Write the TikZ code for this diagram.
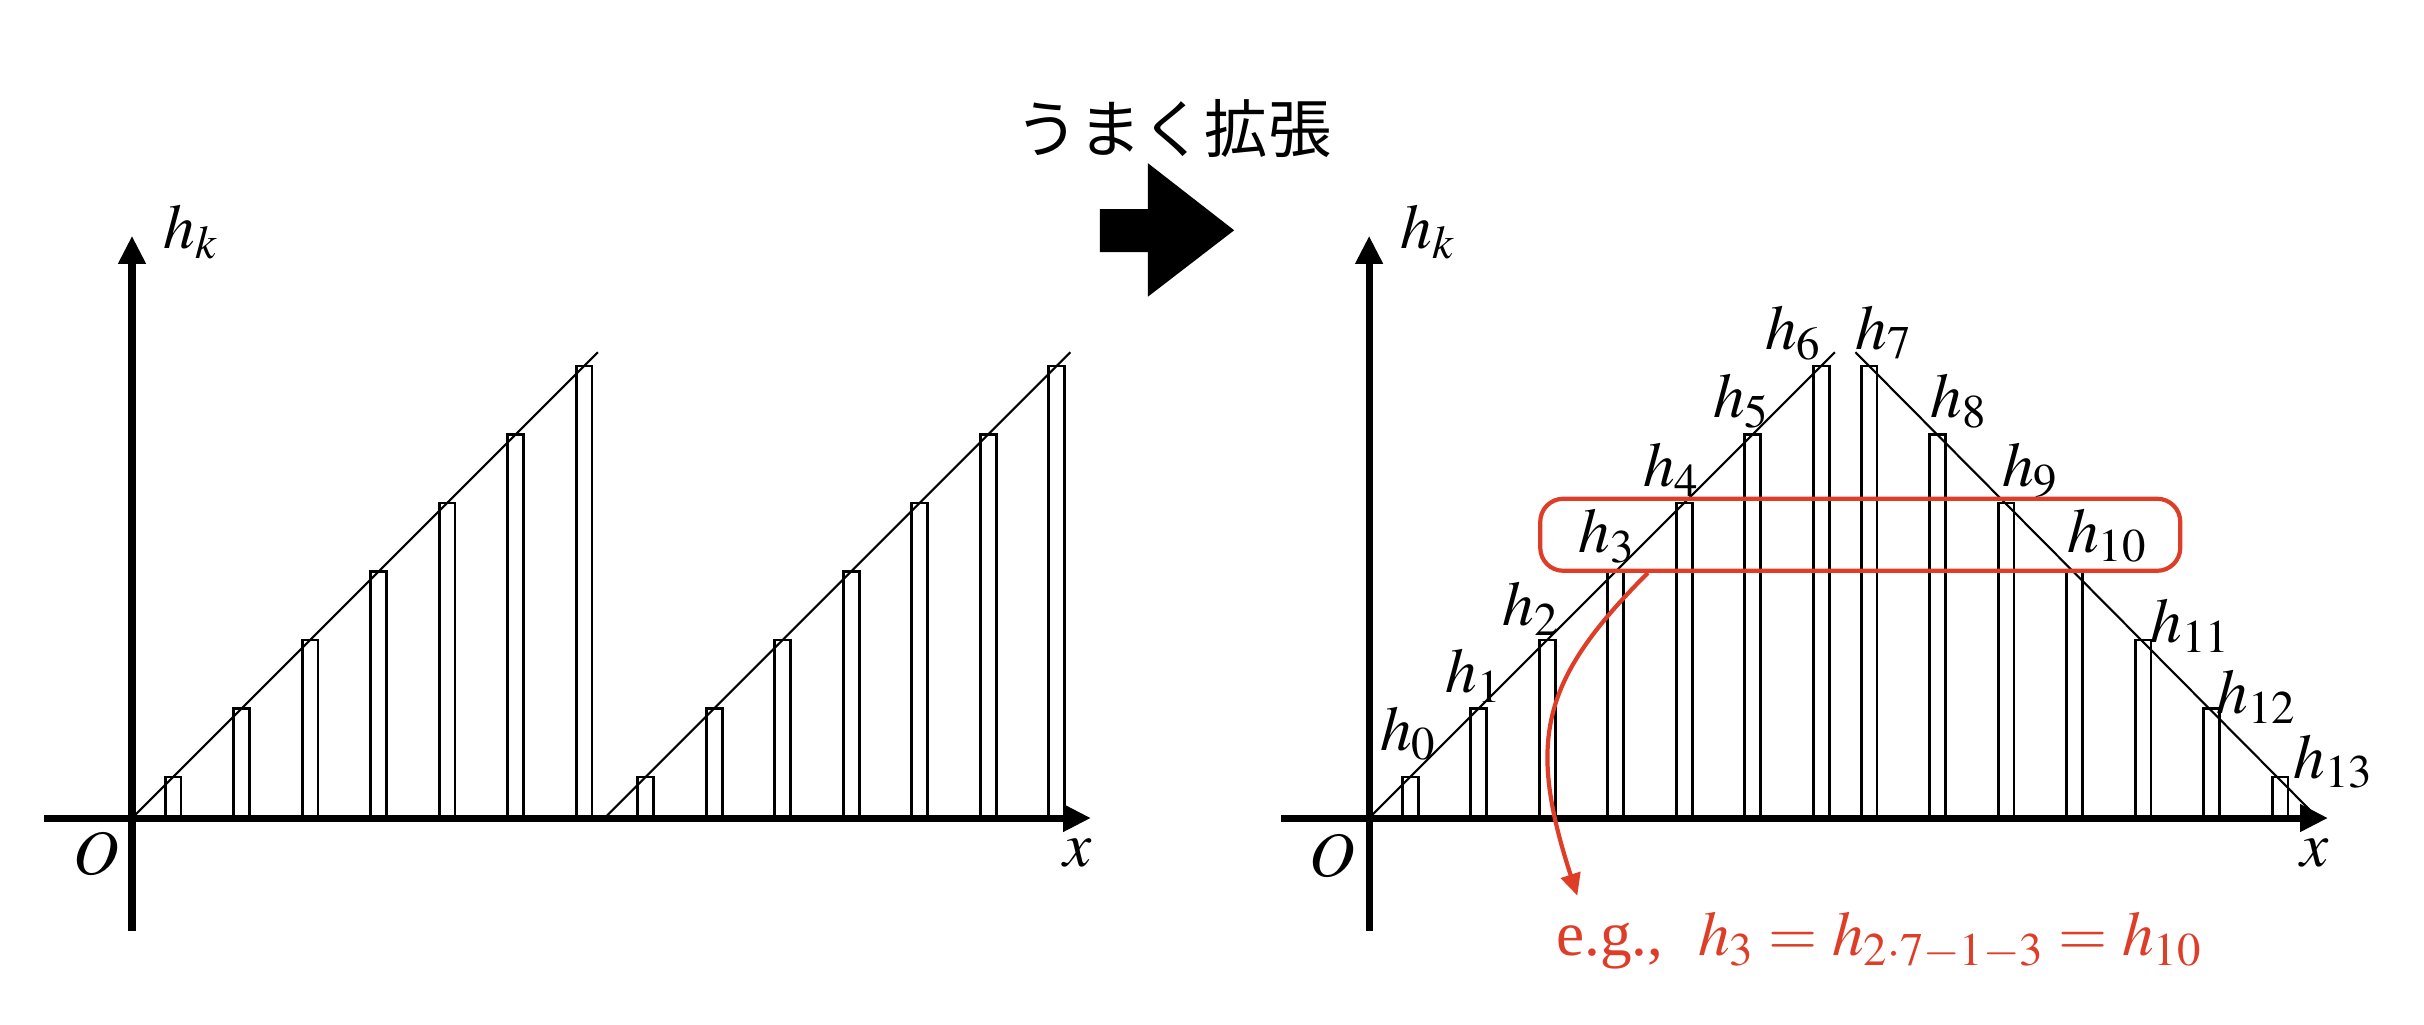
\documentclass[tikz,border=0pt]{standalone}
\usepackage{mathptmx}
\usepackage{fontspec}
\setmainfont{Liberation Serif}
\newfontfamily\jpfont{Noto Sans CJK JP}
\usetikzlibrary{arrows.meta,calc}
\definecolor{egred}{RGB}{222,62,40}

\begin{document}
\begin{tikzpicture}[x=0.685cm,y=0.685cm,
  axisline/.style={line width=2pt,-{Triangle[length=0.28cm,width=0.26cm]}},
  stick/.style={line width=0.8pt},
  ramp/.style={line width=0.6pt},
  lbl/.style={inner sep=0pt,font=\fontsize{18}{22}\selectfont}]
\def\xmin{-1.28}
\def\xmax{14}
\def\ymin{-1.65}
\def\ymax{8.5}
\def\w{0.115}

\useasboundingbox (-1.927,-3.007) rectangle (33.46,11.942);

% left: two ramps
\foreach \s in {0,6.9} {
  \draw[ramp] (\s,0) -- (\s+6.8,6.8);
  \foreach \k in {0,...,6}
    \draw[stick] (\s+\k+0.6-\w,0) rectangle (\s+\k+0.6+\w,\k+0.6);
}
\draw[axisline] (\xmin,0) -- (\xmax,0);
\draw[axisline] (0,\ymin) -- (0,\ymax);
\node[lbl,anchor=north east] (oL) at (-0.18,-0.19) {$O$};
\node[lbl,anchor=north west] (xL) at (13.59,-0.29) {$x$};
\node[lbl,anchor=south west] (hL) at (0.45,8.15) {$h_k$};

% block arrow
\fill (14.13,8.26) -- (14.83,8.26) -- (14.83,7.61) -- (16.09,8.58) -- (14.83,9.56) -- (14.83,8.89) -- (14.13,8.89) -- cycle;
\node[font=\jpfont\fontsize{18}{22}\selectfont] (ext) at (15.2,10.07) {うまく拡張};

% right: extended
\begin{scope}[shift={(18.06,0)}]
\draw[ramp] (0,0) -- (6.8,6.8);
\draw[ramp] (7.1,6.8) -- (13.85,0);
\foreach \k in {0,...,6}
  \draw[stick] (\k+0.6-\w,0) rectangle (\k+0.6+\w,\k+0.6);
\foreach \k in {7,...,13}
  \draw[stick] (\k+0.3-\w,0) rectangle (\k+0.3+\w,13.6-\k);
\draw[axisline] (\xmin,0) -- (\xmax,0);
\draw[axisline] (0,\ymin) -- (0,\ymax);
\node[lbl,anchor=north east] (oR) at (-0.19,-0.22) {$O$};
\node[lbl,anchor=north west] (xR) at (13.59,-0.29) {$x$};
\node[lbl,anchor=south west] (hR) at (0.45,8.15) {$h_k$};

\foreach \k/\lx/\ly in {0/0.15/0.83, 1/1.11/1.68, 2/1.94/2.66, 3/3.05/3.71, 4/3.99/4.69,
    5/5.01/5.68, 6/5.77/6.67, 7/7.09/6.69, 8/8.19/5.68, 9/9.23/4.67, 10/10.18/3.72,
    11/11.40/2.41, 12/12.36/1.37, 13/13.49/0.42}
  \node[lbl,anchor=south west] (h\k) at (\lx,\ly) {$h_{\k}$};

% example
\node[draw=egred,line width=1.2pt,rounded corners=0.23cm,minimum width=6.4cm,minimum height=0.72cm] (hbox) at (7.17,4.135) {};
\node[lbl,text=egred,anchor=base west] (eg) at (2.72,-2.01) {e.g.,\hspace{0.55em}$h_3 = h_{2\cdot 7-1-3} = h_{10}$};
\draw[egred,line width=1.2pt,-{Triangle[length=0.22cm,width=0.2cm]}] ($(hbox.south)+(-3.1,0)$) .. controls +(-1.556,-1.556) and +(-0.742,2.282) .. ($(eg.north west)+(0.32,0.23)$);
\end{scope}
\end{tikzpicture}
\end{document}
